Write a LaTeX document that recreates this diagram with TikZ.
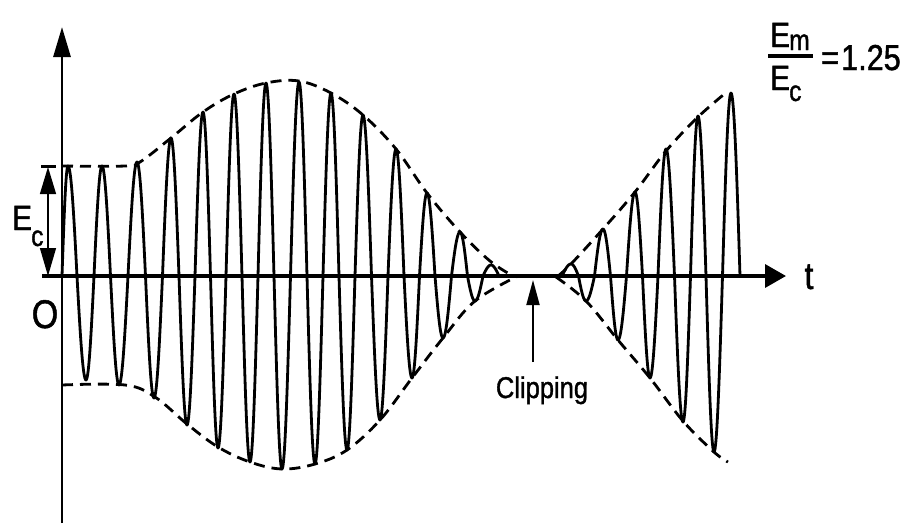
\documentclass[tikz,border=0pt]{standalone}
\usepackage{fontspec}
\newfontfamily\labfont{Liberation Sans}[FakeStretch=0.85,FakeBold=1.2]
\usetikzlibrary{arrows.meta}
\begin{document}
\begin{tikzpicture}[x=1pt,y=-1pt,
  wave/.style={line width=2.8pt, line cap=round, line join=round},
  env/.style={line width=2.8pt, dash pattern=on 11pt off 7pt},
  lab/.style={inner sep=0pt},
  big/.style={lab, font=\labfont\fontsize{35}{38}\selectfont},
  sub/.style={lab, font=\labfont\fontsize{29}{32}\selectfont},
  olab/.style={lab, font=\labfont\fontsize{40}{44}\selectfont},
  tlab/.style={lab, font=\labfont\fontsize{38}{42}\selectfont},
  cliplab/.style={lab, font=\labfont\fontsize{30}{34}\selectfont},
  eqlab/.style={lab, font=\labfont\fontsize{36}{40}\selectfont},
]
\useasboundingbox (0,0) rectangle (903,523);

% envelopes
\draw[env] plot[smooth, tension=0.6] coordinates {(62,166) (125,166) (140,162) (171,138) (203,112) (234,94) (266,83) (299,81) (331,93) (363,115) (396,149) (427,193) (460,232) (490,261) (513,276)};
\draw[env] (513,276) -- (560,276);
\draw[env] plot[smooth, tension=0.6] coordinates {(558,276) (571,264) (603,229) (635,192) (666,151) (698,117) (728,91)};
\draw[env] plot[smooth, tension=0.6] coordinates {(62,385) (125,385) (155,397) (187,424) (218,447) (250,462) (282,469) (315,464) (347,450) (380,420) (412,378) (443,338) (475,301) (518,276)};
\draw[env] plot[smooth, tension=0.6] coordinates {(556,277) (586,301) (618,340) (650,378) (683,421) (714,452) (728,462)};

% carrier
\foreach \zl/\xp/\zr/\am in {
 62/68/77/110, 77/86/94/-104, 94/102/110.5/110, 110.5/119/128/-109,
 128/137/145.5/114, 145.5/154/162.5/-122, 162.5/171/179/138, 179/187/195/-149,
 195/203/210.5/164, 210.5/218/226/-172, 226/234/242/182, 242/250/258/-186,
 258/266/274/193, 274/282/290.5/-193, 290.5/299/307/194, 307/315/323/-188,
 323/331/339/183, 339/347/355/-174, 355/363/371.5/161, 371.5/380/388/-144,
 388/396/404/127, 404/412/419.5/-102, 419.5/427/435/83, 435/443/451.5/-62,
 451.5/460/467.5/44, 467.5/475/483/-25, 483/491/499/11,
 562/571/578.5/12, 578.5/586/594.5/-25, 594.5/603/610.5/47, 610.5/618/626.5/-64,
 626.5/635/642.5/84, 642.5/650/658/-102, 658/666/674.5/127, 674.5/683/690.5/-146,
 690.5/698/706/160, 706/714/722.5/-176, 722.5/731/740/183}
{
  \draw[wave] plot[domain=0:90, samples=16] ({\zl+(\xp-\zl)*\x/90},{276-(\am)*sin(\x)})
     -- plot[domain=90:180, samples=16] ({\xp+(\zr-\xp)*(\x-90)/90},{276-(\am)*sin(\x)});
}

% axes
\coordinate (ybot) at (62,523);
\coordinate (ytop) at (62,27);
\draw[line width=2.9pt, -{Triangle[length=30pt,width=17pt]}] (ybot) -- (ytop);
\coordinate (xl) at (42,276);
\coordinate (xr) at (786,276);
\draw[line width=3.5pt, -{Triangle[length=21pt,width=23pt]}] (xl) -- (xr);

% Ec marker
\coordinate (ect) at (48,167);
\coordinate (ecb) at (48,276);
\draw[line width=1.3pt, {Triangle[length=27pt,width=16pt]}-{Triangle[length=28pt,width=16pt]}] (ect) -- (ecb);
\coordinate (barl) at (41,166);
\coordinate (barr) at (56,166);
\draw[line width=3pt] (barl) -- (barr);

% clipping arrow
\coordinate (cliptip) at (533,280);
\coordinate (clipfoot) at (533,362);
\draw[line width=1.8pt, -{Triangle[length=25pt,width=13pt]}] (clipfoot) -- (cliptip);

% labels
\node[big, anchor=base west] (ecE) at (12,230) {E};
\node[sub, anchor=base west] (ecC) at (31,246) {c};
\node[olab, anchor=base] (orig) at (45,328) {O};
\node[tlab, anchor=base] (tl) at (809,289) {t};
\node[cliplab, anchor=base] (clip) at (542,398) {Clipping};

\node[big, anchor=base west] (numE) at (770,47) {E};
\node[sub, anchor=base west] (numM) at (789,50) {m};
\coordinate (fbl) at (768,56);
\coordinate (fbr) at (813,56);
\draw[line width=3.2pt] (fbl) -- (fbr);
\node[big, anchor=base west] (denE) at (770,90) {E};
\node[sub, anchor=base west] (denC) at (789,101) {c};
\node[eqlab, anchor=base west] (eq) at (821,70) {=};
\node[eqlab, anchor=base west] (val) at (841,70) {1.25};
\end{tikzpicture}
\end{document}
